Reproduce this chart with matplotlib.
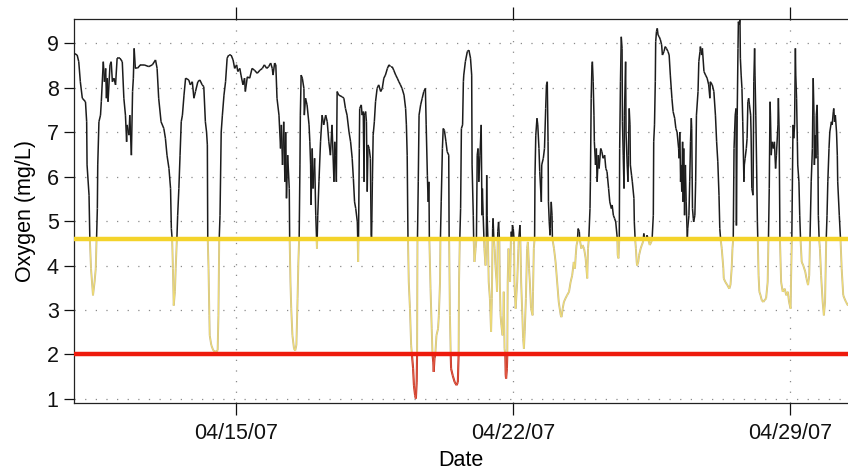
import datetime as dt

import matplotlib
matplotlib.use("Agg")
import matplotlib.dates as mdates
import matplotlib.patheffects as pe
import matplotlib.pyplot as plt
import numpy as np
from matplotlib.collections import LineCollection

# dissolved oxygen record, time in days after 2007-04-10 00:00
t_days = [
    0.91, 0.99, 1.03, 1.07, 1.12, 1.20, 1.23, 1.24, 1.29, 1.31, 1.34, 1.39, 1.43, 1.46,
    1.48, 1.50, 1.51, 1.54, 1.58, 1.60, 1.65, 1.68, 1.71, 1.73, 1.75, 1.77, 1.82, 1.85,
    1.88, 1.92, 1.96, 2.00, 2.07, 2.13, 2.17, 2.21, 2.24, 2.25, 2.30, 2.32, 2.36, 2.39,
    2.41, 2.43, 2.46, 2.51, 2.59, 2.68, 2.80, 2.89, 2.97, 3.01, 3.05, 3.11, 3.18, 3.22,
    3.26, 3.31, 3.35, 3.37, 3.39, 3.41, 3.43, 3.46, 3.48, 3.51, 3.53, 3.56, 3.59, 3.62,
    3.65, 3.69, 3.73, 3.81, 3.85, 3.90, 3.94, 3.98, 4.04, 4.09, 4.15,
    4.19, 4.23, 4.26, 4.28, 4.29, 4.31, 4.33, 4.34, 4.38, 4.43, 4.49, 4.54, 4.56, 4.58,
    4.60, 4.63, 4.66, 4.70, 4.74, 4.78, 4.82, 4.88, 4.93, 4.97, 5.02, 5.05, 5.10, 5.13,
    5.18, 5.22, 5.24, 5.29, 5.35, 5.41, 5.47, 5.54, 5.61, 5.67, 5.72, 5.78, 5.83, 5.88,
    5.92, 5.94, 5.98, 6.01, 6.04, 6.09, 6.13, 6.15, 6.18, 6.21, 6.24, 6.26, 6.28, 6.31,
    6.35, 6.36, 6.38, 6.40, 6.43, 6.47, 6.50, 6.53, 6.56, 6.58, 6.60, 6.62, 6.63, 6.65,
    6.68, 6.72, 6.73, 6.76, 6.80, 6.85, 6.87, 6.89, 6.90, 6.93, 6.95, 6.99, 7.02, 7.04,
    7.05, 7.07, 7.10, 7.14, 7.18, 7.22, 7.27, 7.31, 7.35, 7.39, 7.43, 7.48,
    7.50, 7.52, 7.54, 7.56, 7.60, 7.69, 7.73, 7.77, 7.81, 7.86, 7.90, 7.94, 7.97, 8.00,
    8.03, 8.07, 8.08, 8.09, 8.10, 8.12, 8.13, 8.17, 8.19, 8.22, 8.24, 8.25, 8.28, 8.30,
    8.32, 8.34, 8.37, 8.40, 8.42, 8.43, 8.45, 8.47, 8.50, 8.53, 8.57, 8.61, 8.66, 8.70,
    8.74, 8.78, 8.83, 8.87, 8.91, 8.95, 8.99, 9.04, 9.08, 9.12, 9.16, 9.20, 9.25, 9.29,
    9.31, 9.33, 9.35, 9.37, 9.40, 9.43, 9.45, 9.48, 9.50, 9.53, 9.55, 9.57, 9.58, 9.59,
    9.61, 9.63, 9.67, 9.71, 9.75, 9.79, 9.81, 9.84, 9.86, 9.88, 9.89, 9.92, 9.95, 9.97,
    9.99, 10.00, 10.02, 10.04, 10.07, 10.11, 10.13, 10.16, 10.17, 10.19, 10.22, 10.24,
    10.27, 10.31, 10.34, 10.38, 10.39, 10.41, 10.43, 10.44, 10.48, 10.53, 10.58, 10.61,
    10.63, 10.64, 10.66, 10.68, 10.70, 10.73, 10.75,
    10.76, 10.80, 10.85, 10.89, 10.93, 10.96, 10.97, 11.00, 11.01, 11.03, 11.06, 11.08,
    11.10, 11.12, 11.14, 11.17, 11.20, 11.22, 11.23, 11.25, 11.27, 11.28, 11.31, 11.33,
    11.34, 11.35, 11.37, 11.39, 11.42, 11.45, 11.47, 11.49, 11.50, 11.52, 11.54, 11.56,
    11.59, 11.60, 11.62, 11.64, 11.66, 11.67, 11.69, 11.71, 11.74, 11.76, 11.77, 11.79,
    11.81, 11.82, 11.83, 11.85, 11.86, 11.87, 11.89, 11.91, 11.93, 11.95, 11.96, 11.98,
    11.99, 12.01, 12.03, 12.04, 12.07, 12.11, 12.14, 12.15, 12.18, 12.19, 12.21, 12.24,
    12.26, 12.28, 12.30, 12.33, 12.36, 12.38, 12.41, 12.43, 12.46, 12.50, 12.51, 12.53,
    12.55, 12.56, 12.58, 12.61, 12.63, 12.66, 12.68, 12.72, 12.73, 12.77, 12.80, 12.83,
    12.85, 12.87, 12.89, 12.90, 12.92, 12.94, 12.95, 12.97, 12.99, 13.00, 13.04, 13.08,
    13.12, 13.16, 13.21, 13.23, 13.26, 13.29, 13.33, 13.37, 13.42, 13.46, 13.50, 13.54,
    13.57, 13.59, 13.61, 13.63, 13.65, 13.68, 13.69, 13.73, 13.76, 13.80, 13.84, 13.86,
    13.88, 13.90, 13.92, 13.95, 13.96, 13.98, 14.00, 14.01, 14.03, 14.05,
    14.06, 14.09, 14.11, 14.13, 14.16, 14.18, 14.22, 14.25, 14.28, 14.32, 14.35, 14.38,
    14.42, 14.45, 14.49, 14.51, 14.54, 14.57, 14.60, 14.64, 14.65, 14.67, 14.69, 14.70,
    14.72, 14.74, 14.76, 14.77, 14.79, 14.81, 14.82, 14.85, 14.86, 14.89, 14.91, 14.92,
    14.94, 14.96, 14.97, 15.00, 15.02, 15.06, 15.07, 15.09, 15.11, 15.13, 15.14, 15.17,
    15.19, 15.23, 15.26, 15.29, 15.31, 15.33, 15.36, 15.39, 15.42, 15.46, 15.50, 15.52,
    15.55, 15.56, 15.58, 15.60, 15.61, 15.63, 15.65, 15.67, 15.70, 15.73, 15.76, 15.78,
    15.82, 15.85, 15.88, 15.92, 15.95, 15.98, 16.02, 16.05, 16.09, 16.12, 16.15, 16.19,
    16.20, 16.22, 16.24, 16.25, 16.27, 16.29, 16.30, 16.32, 16.34, 16.36, 16.38, 16.41,
    16.42, 16.45, 16.47, 16.49, 16.51, 16.52, 16.54, 16.56, 16.57, 16.60, 16.62, 16.64,
    16.68, 16.70, 16.73, 16.74, 16.77, 16.79, 16.83, 16.87, 16.91, 16.95, 16.98, 16.99,
    17.04, 17.08, 17.12, 17.15, 17.18, 17.21, 17.23, 17.25, 17.28, 17.32, 17.33,
    17.37, 17.42, 17.47, 17.50, 17.53, 17.55, 17.57, 17.59, 17.62, 17.64, 17.65, 17.67,
    17.69, 17.70, 17.72, 17.74, 17.75, 17.77, 17.79, 17.81, 17.84, 17.85, 17.87, 17.90,
    17.92, 17.94, 17.96, 17.98, 18.01, 18.02, 18.04, 18.07, 18.09, 18.11, 18.12, 18.14,
    18.16, 18.18, 18.19, 18.21, 18.23, 18.26, 18.29, 18.33, 18.36, 18.40, 18.44, 18.46,
    18.48, 18.50, 18.51, 18.53, 18.55, 18.58, 18.61, 18.64, 18.66, 18.70, 18.71, 18.73,
    18.75, 18.78, 18.82, 18.87, 18.91, 18.95, 18.98, 19.02, 19.03, 19.05, 19.08, 19.10,
    19.12, 19.14, 19.15, 19.17, 19.19, 19.20, 19.23, 19.25, 19.27, 19.30, 19.34, 19.39,
    19.42, 19.46, 19.49, 19.51, 19.54, 19.57, 19.59, 19.61, 19.62, 19.64, 19.66, 19.67,
    19.69, 19.71, 19.72, 19.74, 19.76, 19.79, 19.83, 19.86, 19.89, 19.92, 19.94, 19.96,
    19.99, 20.01, 20.05, 20.07, 20.10, 20.11, 20.13, 20.15, 20.18, 20.20, 20.21, 20.25,
    20.28, 20.31, 20.35, 20.38, 20.42, 20.47,
]

oxygen = [
    8.77, 8.73, 8.58, 8.13, 7.76, 7.68, 7.23, 6.26, 5.58, 4.60, 3.93, 3.33, 3.63, 3.93,
    4.60, 5.28, 6.26, 7.23, 7.38, 7.68, 8.58, 8.13, 8.43, 7.76, 8.21, 7.68, 8.51, 8.58,
    8.13, 8.21, 8.06, 8.66, 8.66, 8.58, 7.76, 7.38, 6.78, 7.16, 6.93, 7.38, 6.48, 7.91,
    8.21, 8.88, 8.43, 8.43, 8.51, 8.51, 8.47, 8.51, 8.62, 8.43, 7.76, 7.23, 7.08, 6.86,
    6.48, 6.18, 5.73, 4.83, 4.60, 3.93, 3.10, 3.41, 3.93, 4.60, 5.13, 5.73, 6.48, 7.23,
    7.38, 7.83, 8.21, 8.17, 8.06, 8.13, 7.76, 7.91, 8.13, 8.17, 8.06,
    8.02, 7.23, 7.00, 6.71, 4.60, 3.93, 2.88, 2.43, 2.21, 2.09, 2.06, 2.09, 2.88, 4.60,
    5.13, 7.00, 7.38, 7.83, 8.13, 8.66, 8.73, 8.73, 8.62, 8.43, 8.51, 8.36, 8.43, 8.28,
    8.06, 8.21, 7.91, 8.24, 8.21, 8.43, 8.39, 8.32, 8.39, 8.43, 8.51, 8.43, 8.47, 8.55,
    8.43, 8.28, 8.55, 8.51, 7.76, 7.38, 6.63, 7.16, 6.26, 7.23, 5.88, 7.00, 5.51, 6.48,
    5.73, 4.60, 3.63, 3.03, 2.43, 2.13, 2.09, 2.21, 3.26, 4.08, 4.60, 6.26, 7.38, 8.28,
    8.21, 7.98, 7.38, 7.76, 7.61, 7.16, 6.78, 6.26, 5.36, 6.63, 5.73, 6.41, 5.13, 4.60,
    4.38, 5.13, 5.88, 6.78, 7.38, 7.16, 7.38, 7.23, 6.78, 6.48, 7.16, 5.88,
    6.78, 6.48, 5.88, 7.91, 7.83, 7.79, 7.76, 7.53, 7.38, 7.00, 6.78, 6.41, 5.96, 5.43,
    5.28, 4.98, 4.60, 4.08, 4.60, 6.63, 7.53, 7.61, 7.38, 7.46, 5.88, 7.38, 7.46, 7.23,
    5.66, 6.71, 6.63, 6.41, 4.68, 4.60, 5.88, 6.93, 7.23, 7.68, 7.98, 8.06, 7.91, 7.98,
    8.21, 8.28, 8.43, 8.51, 8.47, 8.47, 8.39, 8.28, 8.21, 8.13, 8.06, 7.98, 7.83, 7.53,
    7.16, 6.48, 4.60, 3.63, 3.03, 2.21, 2.00, 1.68, 1.31, 1.08, 1.01, 1.38, 2.00, 4.60,
    5.88, 7.38, 7.61, 7.76, 7.91, 7.98, 7.16, 6.03, 5.43, 5.88, 4.60, 3.48, 2.58, 2.00,
    1.83, 1.61, 1.91, 2.00, 2.43, 2.58, 2.88, 3.63, 4.60, 5.43, 6.63, 7.08,
    7.04, 6.78, 6.56, 6.48, 4.60, 2.88, 2.00, 1.68, 1.53, 1.38, 1.31, 1.38,
    2.00, 3.63, 4.60, 5.28, 7.08, 7.16, 8.13,
    8.28, 8.58, 8.81, 8.84, 8.66, 8.28, 6.26, 5.13, 4.60, 4.08, 4.38, 4.60,
    6.48, 6.63, 5.88, 6.48, 7.16, 5.13, 5.73, 5.13, 4.60, 4.38, 4.00, 4.46,
    6.03, 5.13, 4.60, 3.63, 3.26, 2.51, 3.26, 4.83, 5.06, 4.60, 4.38, 4.00,
    3.63, 3.41, 4.76, 4.98, 4.60, 3.63, 2.88, 2.66, 2.43, 2.88, 3.41, 2.13,
    2.00, 1.53, 1.46, 1.68, 2.00, 3.63, 4.38, 3.93, 3.63, 4.53, 4.76, 4.60,
    4.91, 4.83, 4.60, 3.63, 3.03, 3.63, 4.38, 4.60, 4.91, 4.60, 3.63, 2.88,
    2.36, 2.13, 2.51, 3.26, 4.38, 4.53, 3.93, 3.63, 3.03, 2.88, 3.41, 4.38,
    4.60, 6.03, 6.93, 7.31, 7.16, 6.63, 6.11, 5.43, 6.26, 6.41, 6.63, 7.53,
    8.06, 8.13, 6.78, 5.43, 4.98, 4.68, 4.83, 5.43, 5.13, 4.60, 4.38, 4.08,
    3.63, 3.18, 2.88, 2.84, 3.03, 3.18, 3.26, 3.33, 3.41, 3.63, 3.78, 4.08,
    3.93, 4.23, 4.46, 4.53, 4.83, 4.76, 4.60, 4.38, 4.46, 4.38, 4.16, 3.93,
    3.71, 4.38, 4.60, 5.28, 5.88, 7.76, 8.51, 8.58, 8.13, 7.38,
    6.78, 6.26, 6.63, 5.88, 6.48, 6.18, 6.63, 6.56, 6.41, 6.48, 6.18, 6.11,
    5.73, 5.43, 5.28, 5.36, 5.13, 5.06, 4.98, 4.60, 4.23, 4.16, 4.60, 6.63,
    8.13, 9.14, 8.88, 7.23, 6.48, 5.73, 7.38, 8.58, 7.00, 6.26, 5.88, 6.48,
    7.53, 7.16, 6.26, 6.03, 5.88, 5.51, 4.98, 4.60, 4.38, 4.08, 4.00, 4.08,
    4.23, 4.38, 4.46, 4.53, 4.72, 4.60, 4.56, 4.68, 4.60, 4.46, 4.53, 4.60,
    5.13, 6.78, 7.16, 8.13, 9.03, 9.26, 9.33, 9.18, 9.14, 9.07, 8.96, 8.73,
    8.81, 8.92, 8.88, 8.81, 8.73, 8.28, 7.76, 7.46, 7.31, 7.08, 7.00, 6.63,
    6.41, 7.00, 5.88, 6.26, 5.66, 6.78, 5.43, 6.63, 5.13, 6.26, 5.43, 4.60,
    4.83, 5.13, 5.88, 6.78, 7.31, 7.08, 5.28, 5.06, 4.98, 5.13, 5.88, 7.38,
    7.91, 8.58, 8.81, 8.92, 8.73, 8.88, 8.36, 8.28, 8.21, 8.06, 7.76, 8.13,
    8.06, 7.91, 7.38, 6.78, 6.33, 5.58, 4.83, 4.60, 4.38, 3.93, 3.71,
    3.63, 3.56, 3.48, 3.56, 3.93, 4.38, 4.60, 6.63, 7.38, 7.53, 4.90, 7.38,
    8.88, 9.48, 9.41, 9.52, 8.66, 8.28, 7.98, 7.23, 5.88, 6.26, 6.41, 6.63,
    6.86, 7.68, 7.76, 7.61, 7.38, 7.00, 5.73, 5.58, 8.13, 8.88, 8.28, 7.38,
    6.26, 4.98, 4.60, 3.78, 3.41, 3.33, 3.22, 3.18, 3.22, 3.26, 3.63, 4.60,
    5.73, 7.68, 7.38, 6.48, 6.78, 6.63, 6.78, 6.18, 6.48, 7.16, 7.76, 7.00,
    4.60, 3.63, 3.41, 3.48, 3.33, 3.41, 3.18, 3.03, 3.63, 4.60, 7.16, 6.86,
    7.16, 8.88, 8.28, 7.76, 6.78, 6.26, 5.88, 5.13, 4.60, 4.08, 4.00, 3.86,
    3.71, 3.56, 3.78, 4.60, 5.88, 6.63, 8.21, 7.38, 6.26, 6.93, 6.41, 7.38,
    7.61, 6.48, 5.13, 4.60, 4.38, 3.78, 3.18, 2.88, 3.18, 4.60, 5.13, 5.88,
    6.63, 7.00, 7.23, 7.16, 7.46, 7.53, 7.23, 7.38, 7.00, 6.48, 5.88, 5.13,
    4.60, 3.93, 3.33, 3.26, 3.18, 3.10,
]

# warning and hypoxia thresholds (mg/L)
warn_level = 4.6
hypoxia_level = 2.0

start_date = dt.datetime(2007, 4, 10)
tick_dates = [dt.datetime(2007, 4, 15), dt.datetime(2007, 4, 22), dt.datetime(2007, 4, 29)]
y_ticks = [1, 2, 3, 4, 5, 6, 7, 8, 9]


def split_at_levels(t, y, levels):
    """Insert points where the series crosses a level so each segment stays in one band."""
    tt, yy = [t[0]], [y[0]]
    for i in range(1, len(t)):
        t0, y0, t1, y1 = t[i - 1], y[i - 1], t[i], y[i]
        cross = []
        for lv in levels:
            if (y0 - lv) * (y1 - lv) < 0:
                cross.append(((lv - y0) / (y1 - y0), lv))
        for f, lv in sorted(cross):
            tt.append(t0 + f * (t1 - t0))
            yy.append(lv)
        tt.append(t1)
        yy.append(y1)
    return np.array(tt), np.array(yy)


plt.rcParams["font.family"] = ["Liberation Sans", "DejaVu Sans"]

fig = plt.figure(figsize=(8.48, 4.70), dpi=100)
ax = fig.add_axes([74 / 848, 67 / 470, 1 - 74 / 848, 384 / 470])

x0 = mdates.date2num(start_date)
tx, yv = split_at_levels(np.array(t_days) + x0, np.array(oxygen), [warn_level, hypoxia_level])
pts = np.column_stack([tx, yv])
segs = np.stack([pts[:-1], pts[1:]], axis=1)
mid = 0.5 * (yv[:-1] + yv[1:])

hi = mid >= warn_level - 1e-9
lo = (mid < warn_level - 1e-9) & (mid >= hypoxia_level - 1e-9)
crit = mid < hypoxia_level - 1e-9

ax.add_collection(LineCollection(segs[hi], colors="#1c1c1c", linewidths=1.1, zorder=3))
lc_lo = LineCollection(segs[lo], colors="#f6e270", linewidths=0.6, zorder=3)
lc_lo.set_path_effects([pe.Stroke(linewidth=1.4, foreground="#c9bb8c"), pe.Normal()])
ax.add_collection(lc_lo)
lc_crit = LineCollection(segs[crit], colors="#e8604a", linewidths=0.6, zorder=3)
lc_crit.set_path_effects([pe.Stroke(linewidth=1.5, foreground="#c03020"), pe.Normal()])
ax.add_collection(lc_crit)

# threshold lines
ax.axhline(warn_level, color="#f4d32a", lw=3.2, zorder=4)
ax.axhline(hypoxia_level, color="#ee1a0c", lw=3.2, zorder=4)

ax.set_xlim(x0 + t_days[0], x0 + t_days[-1])
ax.set_ylim(0.91, 9.54)

ax.set_yticks(y_ticks)
ax.set_xticks(mdates.date2num(tick_dates))
ax.xaxis.set_major_formatter(mdates.DateFormatter("%m/%d/%y"))
ax.tick_params(axis="both", direction="out", length=7, width=0.9, labelsize=15.5,
               colors="#111111", top=True, labeltop=False)
ax.tick_params(axis="x", length=8.5, pad=6)
ax.tick_params(axis="y", pad=4)

ax.grid(True, color="#8a8a8a", lw=0.9, linestyle=(0, (1, 7.5)), zorder=1)

for side in ["left", "top", "bottom"]:
    ax.spines[side].set_linewidth(0.9)
    ax.spines[side].set_color("#222222")
ax.spines["right"].set_visible(False)

ax.set_ylabel("Oxygen (mg/L)", fontsize=15.5, labelpad=8)
ax.set_xlabel("Date", fontsize=15.5, labelpad=4)

fig.savefig("out.png", dpi=100)
